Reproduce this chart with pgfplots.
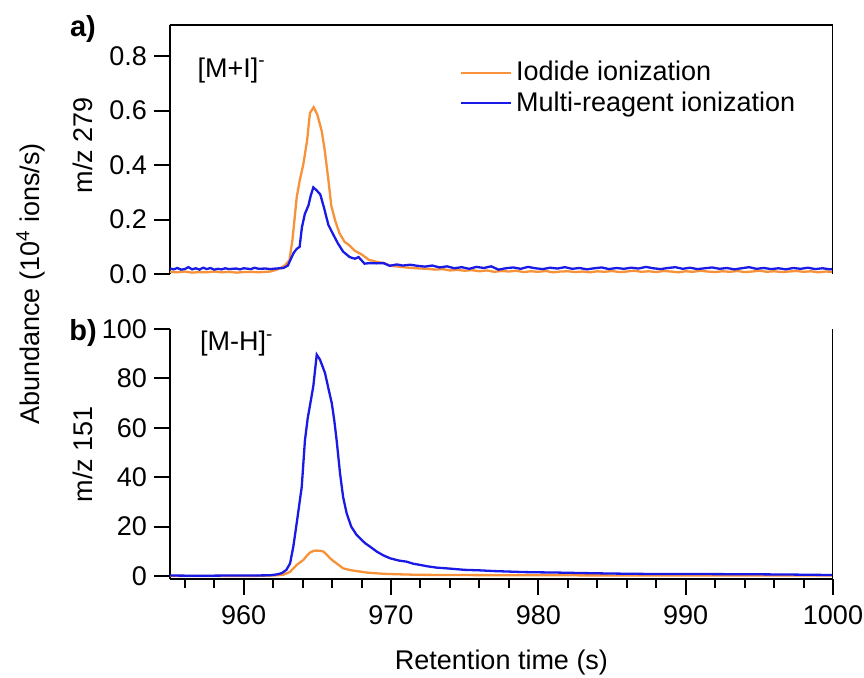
\documentclass[border=0pt]{standalone}
\usepackage{fontspec}
\setmainfont{Liberation Sans}
\usepackage{pgfplots}
\pgfplotsset{compat=1.18}
\definecolor{iodide}{HTML}{F7923A}
\definecolor{multi}{HTML}{1A1AE6}
\newcommand\fsz{\fontsize{13.5}{16}\selectfont}

\pgfplotsset{
  panel/.style={
    scale only axis, width=331.5pt,
    xmin=955, xmax=1000,
    axis line style={line width=1.3pt, black},
    tick style={black, line width=1pt},
    major tick length=8pt, minor tick length=4.5pt,
    tick align=outside,
    tick label style={font=\fsz},
    label style={font=\fsz},
    /pgf/number format/assume math mode=true,
    every axis plot/.append style={line width=1.15pt, no marks},
  },
}

\begin{document}
\begin{tikzpicture}[x=1pt,y=1pt]
\useasboundingbox (0,0) rectangle (432,339);

% ---- a) m/z 279
\begin{axis}[panel,
  at={(85pt,202pt)}, anchor=south west, height=124.5pt,
  ymin=0, ymax=0.914,
  axis x line=none, axis y line*=left,
  xtick=\empty,
  ytick={0,0.2,0.4,0.6,0.8},
  yticklabel style={/pgf/number format/.cd, fixed, fixed zerofill, precision=1},
  ylabel={m/z 279},
  ylabel style={at={(axis description cs:-0.131,0.518)}, anchor=center},
  legend style={at={(axis description cs:0.437,0.872)}, anchor=north west,
    draw=none, fill=none, font=\fsz, inner sep=0pt, row sep=0pt,
    cells={anchor=west}},
  legend image code/.code={\draw[#1, line width=1pt] (-1pt,0pt) -- (24pt,0pt);},
]
\addplot[iodide] coordinates {
(955.0,0.008) (955.5,0.006) (956.0,0.009) (956.5,0.005) (957.0,0.007) (957.5,0.006)
(958.0,0.009) (958.5,0.006) (959.0,0.008) (959.5,0.005) (960.0,0.007) (960.5,0.008)
(961.0,0.006) (961.5,0.008) (961.8,0.009) (962.2,0.015) (962.5,0.022) (962.8,0.032)
(963.1,0.050) (963.3,0.120) (963.45,0.200) (963.6,0.281) (963.8,0.342) (964.05,0.403)
(964.3,0.488) (964.5,0.591) (964.75,0.612) (965.0,0.585) (965.3,0.524) (965.5,0.455)
(965.75,0.345) (965.95,0.250) (966.2,0.198) (966.5,0.150) (966.85,0.118) (967.2,0.104)
(967.55,0.085) (968.0,0.072) (968.5,0.052) (969.0,0.045) (969.5,0.040) (970.0,0.030)
(970.5,0.027) (971.0,0.024) (971.5,0.022) (972.0,0.020)
(972.5,0.019) (973.0,0.016) (973.5,0.018) (974.0,0.013) (974.5,0.015) (975.0,0.012)
(975.5,0.014) (976.0,0.010) (976.5,0.013) (977.0,0.008) (977.5,0.011) (978.0,0.009)
(978.5,0.012) (979.0,0.007) (979.5,0.010) (980.0,0.008) (980.5,0.011) (981.0,0.006)
(981.5,0.009) (982.0,0.010) (982.5,0.007) (983.0,0.009) (983.5,0.006) (984.0,0.010)
(984.5,0.008) (985.0,0.011) (985.5,0.007) (986.0,0.009) (986.5,0.012) (987.0,0.008)
(987.5,0.010) (988.0,0.007) (988.5,0.011) (989.0,0.009) (989.5,0.006) (990.0,0.010)
(990.5,0.008) (991.0,0.012) (991.5,0.009) (992.0,0.007) (992.5,0.010) (993.0,0.008)
(993.5,0.011) (994.0,0.007) (994.5,0.009) (995.0,0.012) (995.5,0.008) (996.0,0.010)
(996.5,0.007) (997.0,0.009) (997.5,0.011) (998.0,0.008) (998.5,0.010) (999.0,0.006)
(999.5,0.009) (1000.0,0.008)
};
\addlegendentry{Iodide ionization}
\addplot[multi] coordinates {
(955.0,0.020) (955.25,0.017) (955.5,0.022) (955.75,0.016) (956.0,0.018) (956.25,0.025)
(956.5,0.017) (956.75,0.021) (957.0,0.016) (957.25,0.023) (957.5,0.018) (957.75,0.022)
(958.0,0.016) (958.25,0.019) (958.5,0.017) (958.75,0.021) (959.0,0.018) (959.5,0.020)
(959.75,0.017) (960.0,0.021) (960.5,0.018) (960.75,0.023) (961.0,0.019) (961.5,0.020)
(961.8,0.018) (962.2,0.020) (962.7,0.022) (963.0,0.031) (963.2,0.055) (963.4,0.078)
(963.6,0.092) (963.8,0.100) (963.95,0.170) (964.15,0.220) (964.4,0.252) (964.55,0.287)
(964.73,0.318) (964.95,0.307) (965.2,0.292) (965.45,0.244) (965.75,0.180) (966.05,0.148)
(966.4,0.112) (966.75,0.082) (967.2,0.062) (967.55,0.056) (967.8,0.062) (968.2,0.038)
(968.6,0.040) (969.0,0.039) (969.5,0.040) (969.9,0.030) (970.4,0.035) (970.8,0.031)
(971.3,0.034) (971.8,0.030) (972.3,0.027) (972.8,0.031) (973.3,0.024) (973.8,0.028)
(974.3,0.021) (974.8,0.025) (975.3,0.019) (975.8,0.026) (976.3,0.022) (976.8,0.028)
(977.3,0.016) (977.8,0.021) (978.3,0.024) (978.8,0.019) (979.3,0.026) (979.8,0.021)
(980.3,0.018) (980.8,0.023) (981.3,0.020) (981.8,0.025) (982.3,0.019) (982.8,0.022)
(983.3,0.017) (983.8,0.021) (984.3,0.024) (984.8,0.018) (985.3,0.022) (985.8,0.019)
(986.3,0.023) (986.8,0.020) (987.3,0.026) (987.8,0.021) (988.3,0.018) (988.8,0.022)
(989.3,0.025) (989.8,0.019) (990.3,0.023) (990.8,0.018) (991.3,0.021) (991.8,0.024)
(992.3,0.019) (992.8,0.022) (993.3,0.017) (993.8,0.021) (994.3,0.025) (994.8,0.019)
(995.3,0.022) (995.8,0.018) (996.3,0.021) (996.8,0.017) (997.3,0.022) (997.8,0.019)
(998.3,0.023) (998.8,0.018) (999.3,0.021) (999.8,0.017) (1000.0,0.019)
};
\addlegendentry{Multi-reagent ionization}
\draw[line width=1.3pt] (rel axis cs:-0.004,1) -- (rel axis cs:1,1) -- (rel axis cs:1,0);
\node[anchor=base west, inner sep=0pt, font=\fsz] at (axis description cs:0.041,0.791) {[M+I]\textsuperscript{-}};
\end{axis}

% ---- b) m/z 151
\begin{axis}[panel,
  at={(85pt,49.5pt)}, anchor=south west, height=125pt,
  ymin=-1.2, ymax=100,
  axis x line*=bottom, axis y line*=left,
  xtick={960,970,980,990,1000},
  minor xtick={956,958,...,1000},
  ytick={0,20,40,60,80,100},
  xticklabel style={yshift=-2pt, /pgf/number format/.cd, fixed, 1000 sep={}},
  xlabel={Retention time (s)},
  xlabel style={at={(axis description cs:0.5,-0.336)}, anchor=center},
  ylabel={m/z 151},
  ylabel style={at={(axis description cs:-0.131,0.5)}, anchor=center},
]
\addplot[iodide] coordinates {
(955,0.0) (960.4,0.0) (962,0.2) (962.69,0.5) (963.15,1.7) (963.6,4.5) (964.05,6.5)
(964.3,8.3) (964.5,9.5) (964.75,10.2) (964.96,10.3) (965.2,10.2) (965.41,9.9)
(965.65,8.6) (965.86,7.2) (966.1,6.0) (966.31,5.1) (966.55,4.0) (966.76,3.1)
(967.1,2.6) (967.44,2.2) (968.35,1.4) (969.48,0.9) (970.5,0.7) (971.74,0.5)
(974,0.4) (980,0.3) (990,0.2) (1000,0.2)
};
\addplot[multi] coordinates {
(955,0.2) (957,0.1) (959,0.2) (960.5,0.2) (961.8,0.3) (962.3,0.7) (962.6,1.2)
(962.9,2.5) (963.15,5.1) (963.37,11.9) (963.6,21.4) (963.8,30) (963.94,36)
(964.16,55) (964.35,64) (964.5,69) (964.73,77) (964.96,89.6) (965.18,87.6)
(965.52,82.2) (965.75,76) (965.98,70) (966.15,63) (966.31,55) (966.54,41.6)
(966.75,32) (966.99,25.4) (967.3,20) (967.67,16.6) (968.24,13.3) (968.6,11.8)
(969.03,9.9) (969.5,8.3) (969.93,7.2) (970.5,6.3) (971.07,5.8) (971.5,5.0)
(971.97,4.5) (972.5,3.9) (973.1,3.4) (974.0,3.0) (975,2.5) (976,2.3) (977,2.0)
(978,1.8) (979,1.6) (980,1.5) (981.25,1.4) (983,1.2) (985,1.0) (988,0.8)
(991,0.8) (994.8,0.7) (997,0.6) (1000,0.4)
};
\draw[line width=1.3pt] (rel axis cs:1,0) -- (rel axis cs:1,1);
\node[anchor=base west, inner sep=0pt, font=\fsz] at (axis description cs:0.045,0.912) {[M-H]\textsuperscript{-}};
\end{axis}

\node[rotate=90, font=\fsz] at (15.5,197) {Abundance (10\textsuperscript{4} ions/s)};
\node[font=\fontsize{14.5}{17}\selectfont\bfseries] at (41.5,324.5) {a)};
\node[font=\fontsize{14.5}{17}\selectfont\bfseries] at (41.5,172.5) {b)};
\end{tikzpicture}
\end{document}
